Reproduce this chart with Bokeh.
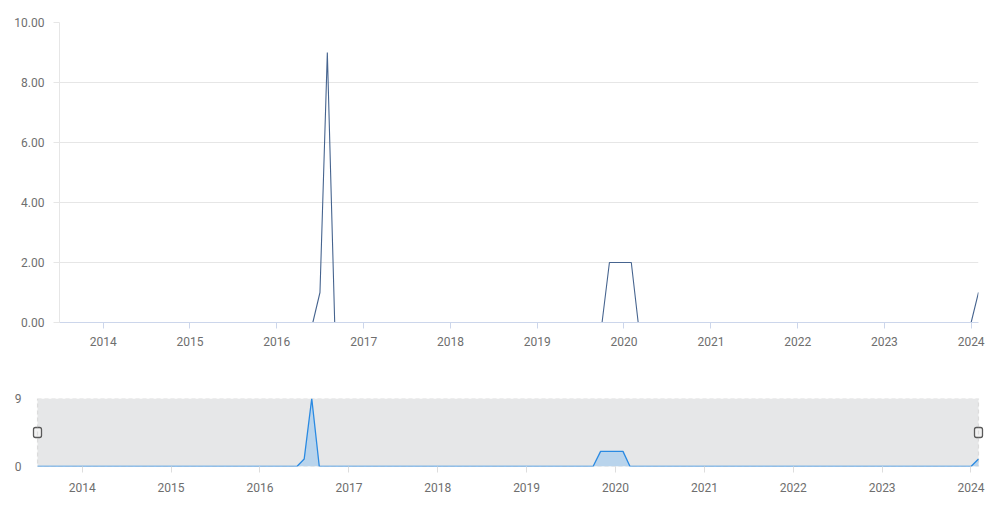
import pandas as pd
from bokeh.plotting import figure
from bokeh.models import (Range1d, FixedTicker, PrintfTickFormatter,
                          DatetimeTickFormatter, BoxAnnotation, ColumnDataSource)
from bokeh.embed import file_html
from bokeh.resources import INLINE

# ---------------- data (monthly, Jul 2013 .. Feb 2024) ----------------
first_month = "2013-07-01"
last_month = "2024-02-01"
values_2013 = [0, 0, 0, 0, 0, 0]                      # Jul-Dec
values_2014 = [0, 0, 0, 0, 0, 0, 0, 0, 0, 0, 0, 0]
values_2015 = [0, 0, 0, 0, 0, 0, 0, 0, 0, 0, 0, 0]
values_2016 = [0, 0, 0, 0, 0, 0, 1, 9, 0, 0, 0, 0]
values_2017 = [0, 0, 0, 0, 0, 0, 0, 0, 0, 0, 0, 0]
values_2018 = [0, 0, 0, 0, 0, 0, 0, 0, 0, 0, 0, 0]
values_2019 = [0, 0, 0, 0, 0, 0, 0, 0, 0, 0, 2, 2]
values_2020 = [2, 2, 0, 0, 0, 0, 0, 0, 0, 0, 0, 0]
values_2021 = [0, 0, 0, 0, 0, 0, 0, 0, 0, 0, 0, 0]
values_2022 = [0, 0, 0, 0, 0, 0, 0, 0, 0, 0, 0, 0]
values_2023 = [0, 0, 0, 0, 0, 0, 0, 0, 0, 0, 0, 0]
values_2024 = [0, 1]                                  # Jan-Feb
tick_years = [2014, 2015, 2016, 2017, 2018, 2019, 2020, 2021, 2022, 2023, 2024]
y_ticks = [0, 2, 4, 6, 8, 10]

values = (values_2013 + values_2014 + values_2015 + values_2016 + values_2017 +
          values_2018 + values_2019 + values_2020 + values_2021 + values_2022 +
          values_2023 + values_2024)
dates = pd.date_range(first_month, last_month, freq="MS")
src = ColumnDataSource(dict(x=dates, y=values, base=[0] * len(values)))

def ms(ts):
    return pd.Timestamp(ts).value / 1e6

x0, x1 = ms(dates[0]), ms(dates[-1])
year_ticks = [ms(pd.Timestamp(year=y, month=1, day=1)) for y in tick_years]

FONT = "Roboto"
LABEL = "#6e6e6e"
fmt = DatetimeTickFormatter(years="%Y", months="%Y", days="%Y", hours="%Y")

# ---------------- main chart ----------------
p = figure(width=990, height=368, x_axis_type="datetime", output_backend="svg",
           toolbar_location=None, min_border_left=59, min_border_right=12,
           min_border_top=22, min_border_bottom=46,
           x_range=Range1d(x0, x1), y_range=Range1d(0, 10))
p.outline_line_color = None
p.line("x", "y", source=src, line_color="#46648f", line_width=1.1)

p.xgrid.grid_line_color = None
p.ygrid.grid_line_color = "#e6e6e6"
p.ygrid.ticker = FixedTicker(ticks=y_ticks)
p.yaxis.ticker = FixedTicker(ticks=y_ticks)
p.yaxis.formatter = PrintfTickFormatter(format="%.2f")
p.yaxis.axis_line_color = "#e6e6e6"
p.yaxis.major_tick_line_color = "#e6e6e6"
p.yaxis.major_tick_out = 6
p.yaxis.major_tick_in = 0
p.yaxis.minor_tick_line_color = None
p.yaxis.major_label_standoff = 9
p.xaxis.ticker = FixedTicker(ticks=year_ticks)
p.xaxis.formatter = fmt
p.xaxis.axis_line_color = "#ccd6eb"
p.xaxis.major_tick_line_color = "#ccd6eb"
p.xaxis.major_tick_out = 6
p.xaxis.major_tick_in = 0
p.xaxis.minor_tick_line_color = None
p.xaxis.major_label_standoff = 8
for ax in (p.xaxis, p.yaxis):
    ax.major_label_text_font = FONT
    ax.major_label_text_font_size = "12px"
    ax.major_label_text_color = LABEL

# ---------------- navigator ----------------
nav_left, nav_right = 31, 6
frame_w = 990 - nav_left - nav_right
pad = 6 * (x1 - x0) / (frame_w - 12)
vmax = max(values)
nav = figure(width=990, height=130, x_axis_type="datetime", output_backend="svg",
             toolbar_location=None, min_border_left=nav_left, min_border_right=nav_right,
             min_border_top=30, min_border_bottom=32,
             x_range=Range1d(x0 - pad, x1 + pad), y_range=Range1d(0, vmax))
nav.outline_line_color = None
nav.grid.grid_line_color = None

shade = BoxAnnotation(left=x0, right=x1, bottom=0, top=vmax,
                      fill_color="#e6e7e8", fill_alpha=1.0, line_color=None,
                      level="underlay")
nav.add_layout(shade)
nav.varea("x", "base", "y", source=src, fill_color="#a9cdee", fill_alpha=0.75)
nav.line("x", "y", source=src, line_color="#2a8ae2", line_width=1.3)
border = BoxAnnotation(left=x0, right=x1, bottom=0, top=vmax,
                       fill_alpha=0, line_color="#a8a8a8", line_width=1.2,
                       line_dash="4 3")
nav.add_layout(border)
hsrc = ColumnDataSource(dict(x=[x0, x1], y=[vmax / 2, vmax / 2]))
try:
    nav.rect("x", "y", source=hsrc, width=8, height=10, width_units="screen",
             height_units="screen", fill_color="#f2f2f2", line_color="#5a5a5a",
             line_width=1.3, border_radius=2)
except AttributeError:
    nav.rect("x", "y", source=hsrc, width=8, height=10, width_units="screen",
             height_units="screen", fill_color="#f2f2f2", line_color="#5a5a5a",
             line_width=1.3)

nav.yaxis.ticker = FixedTicker(ticks=[0, vmax])
nav.yaxis.axis_line_color = None
nav.yaxis.major_tick_line_color = None
nav.yaxis.minor_tick_line_color = None
nav.yaxis.major_label_standoff = 4
nav.xaxis.ticker = FixedTicker(ticks=year_ticks)
nav.xaxis.formatter = fmt
nav.xaxis.axis_line_color = None
nav.xaxis.major_tick_line_color = "#dddddd"
nav.xaxis.major_tick_out = 6
nav.xaxis.major_tick_in = 0
nav.xaxis.minor_tick_line_color = None
nav.xaxis.major_label_standoff = 10
for ax in (nav.xaxis, nav.yaxis):
    ax.major_label_text_font = FONT
    ax.major_label_text_font_size = "12px"
    ax.major_label_text_color = LABEL

open("out.html", "w").write(file_html([p, nav], INLINE))
